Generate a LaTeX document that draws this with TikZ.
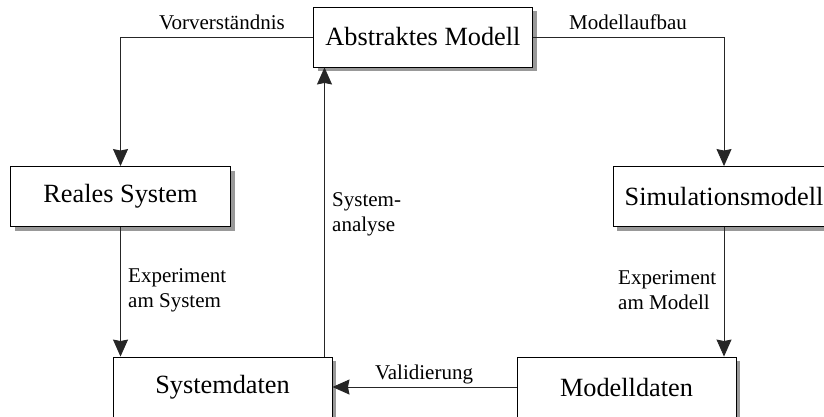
\documentclass[tikz,border=0pt]{standalone}
\usepackage{fontspec}
\setmainfont{Liberation Serif}
\usetikzlibrary{arrows.meta,shadows}
\begin{document}
\begin{tikzpicture}[x=1pt,y=-1pt,
  box/.style={draw=black, line width=0.9pt, fill=white,
    minimum width=219pt, minimum height=60pt, inner sep=0pt,
    font=\fontsize{26.3}{31}\selectfont,
    drop shadow={shadow xshift=4pt, shadow yshift=-4pt, fill=gray!80, opacity=1}},
  flow/.style={draw=black!85, line width=0.9pt, -{Stealth[length=17pt,width=15pt,inset=1.5pt]}},
  lbl/.style={font=\fontsize{21}{25}\selectfont, inner sep=0pt, align=left}]
\clip (0,0) rectangle (824,416);
\fill[white] (0,0) rectangle (824,416);

% boxes
\node[box] (abs) at (423,37) {Abstraktes Modell};
\node[box, minimum width=220pt] (real) at (120.5,196.5) {Reales System};
\node[box, minimum width=222pt] (sim) at (724,196.5) {Simulationsmodell};
\node[box] (sysd) at (222.5,387) {Systemdaten};
\node[box] (modd) at (626.5,387) {Modelldaten};

% connectors
\coordinate (sa) at (324.5,0);
\draw[flow] (abs.west) -| (real.north);
\draw[flow] (abs.east) -| (sim.north);
\draw[flow] (real.south) -- (real.south |- sysd.north);
\draw[flow] (sim.south) -- (sim.south |- modd.north);
\draw[flow] (modd.west) -- (sysd.east);
\draw[flow] (sa |- sysd.north) -- (sa |- abs.south);

% labels
\node[lbl] (lv) at (222,22) {Vorverständnis};
\node[lbl] (lm) at (628,22) {Modellaufbau};
\node[lbl, anchor=west] (les) at (128,290) {Experiment\\am System};
\node[lbl, anchor=west] (lem) at (618,290) {Experiment\\am Modell};
\node[lbl, anchor=west] (lsa) at (332,214) {System-\\analyse};
\node[lbl] (lval) at (424,374) {Validierung};
\end{tikzpicture}
\end{document}
